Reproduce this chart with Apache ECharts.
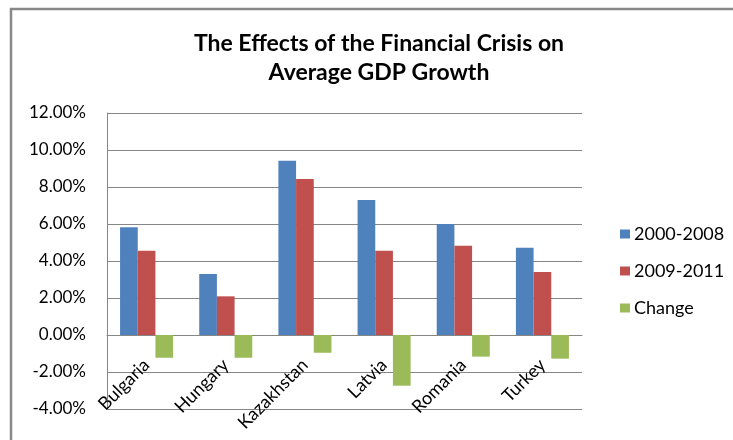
<!DOCTYPE html>
<html>
<head>
<meta charset="utf-8">
<script src="https://cdn.jsdelivr.net/npm/echarts@6/dist/echarts.min.js"></script>
<style>
  html, body { margin: 0; padding: 0; background: #fff; }
  #chart { width: 733px; height: 440px; }
</style>
</head>
<body>
<div id="chart"></div>
<script>
// Average annual GDP growth (%) before and after the 2008 crisis
const countries = ['Bulgaria', 'Hungary', 'Kazakhstan', 'Latvia', 'Romania', 'Turkey'];
const growth2000to2008 = [5.82, 3.30, 9.42, 7.30, 6.00, 4.72];
const growth2009to2011 = [4.56, 2.09, 8.43, 4.56, 4.83, 3.41];
const growthChange = [-1.23, -1.23, -0.96, -2.74, -1.17, -1.28];
const seriesNames = ['2000-2008', '2009-2011', 'Change'];
const seriesColors = ['#4F81BD', '#C0504D', '#9BBB59'];

const FONT = 'Lato, "Open Sans", sans-serif';
const GRID_COLOR = '#868686';

// value axis range
const Y_MIN = -4, Y_MAX = 12, Y_STEP = 2;

// plot area
const GRID = { left: 107, right: 151, top: 113, bottom: 31 };
const CHART_H = 440;
const plotHeight = CHART_H - GRID.top - GRID.bottom;
// lift the category axis (line + labels) from the bottom edge up to the zero line
const zeroLift = plotHeight * (0 - Y_MIN) / (Y_MAX - Y_MIN);

const chart = echarts.init(document.getElementById('chart'), null, { renderer: 'canvas' });

const valueSets = [growth2000to2008, growth2009to2011, growthChange];

chart.setOption({
  animation: false,
  backgroundColor: '#ffffff',
  graphic: [{
    type: 'rect',
    shape: { x: 11, y: 9, width: 800, height: 500 },
    style: { fill: 'none', stroke: '#888888', lineWidth: 2.5 },
    silent: true
  }],
  title: {
    text: 'The Effects of the Financial Crisis on\nAverage GDP Growth',
    left: 374,
    top: 24,
    textAlign: 'center',
    textStyle: {
      fontFamily: FONT,
      fontSize: 23,
      fontWeight: 'bold',
      color: '#000',
      lineHeight: 29
    }
  },
  legend: {
    orient: 'vertical',
    left: 615,
    top: 220,
    itemWidth: 10,
    itemHeight: 9,
    itemGap: 19,
    icon: 'rect',
    textStyle: { fontFamily: FONT, fontSize: 18, color: '#000', lineHeight: 18, padding: [0, 0, 0, -1] },
    data: seriesNames
  },
  grid: Object.assign({ containLabel: false, outerBoundsMode: 'none' }, GRID),
  xAxis: {
    type: 'category',
    data: countries,
    position: 'bottom',
    offset: -zeroLift,
    axisLine: { onZero: false, lineStyle: { color: GRID_COLOR, width: 1 } },
    axisTick: { show: false },
    axisLabel: {
      rotate: 45,
      margin: 27,
      interval: 0,
      fontFamily: FONT,
      fontSize: 18,
      color: '#000'
    }
  },
  yAxis: {
    type: 'value',
    min: Y_MIN,
    max: Y_MAX,
    interval: Y_STEP,
    axisLine: { show: true, lineStyle: { color: GRID_COLOR, width: 1 } },
    axisTick: { show: false },
    splitLine: { lineStyle: { color: GRID_COLOR, width: 1 } },
    axisLabel: {
      margin: 21,
      fontFamily: FONT,
      fontSize: 17,
      color: '#000',
      formatter: v => v.toFixed(2) + '%'
    }
  },
  series: seriesNames.map((name, i) => ({
    name,
    type: 'bar',
    data: valueSets[i],
    barGap: '0%',
    barCategoryGap: '33%',
    itemStyle: { color: seriesColors[i] }
  }))
});
</script>
</body>
</html>
